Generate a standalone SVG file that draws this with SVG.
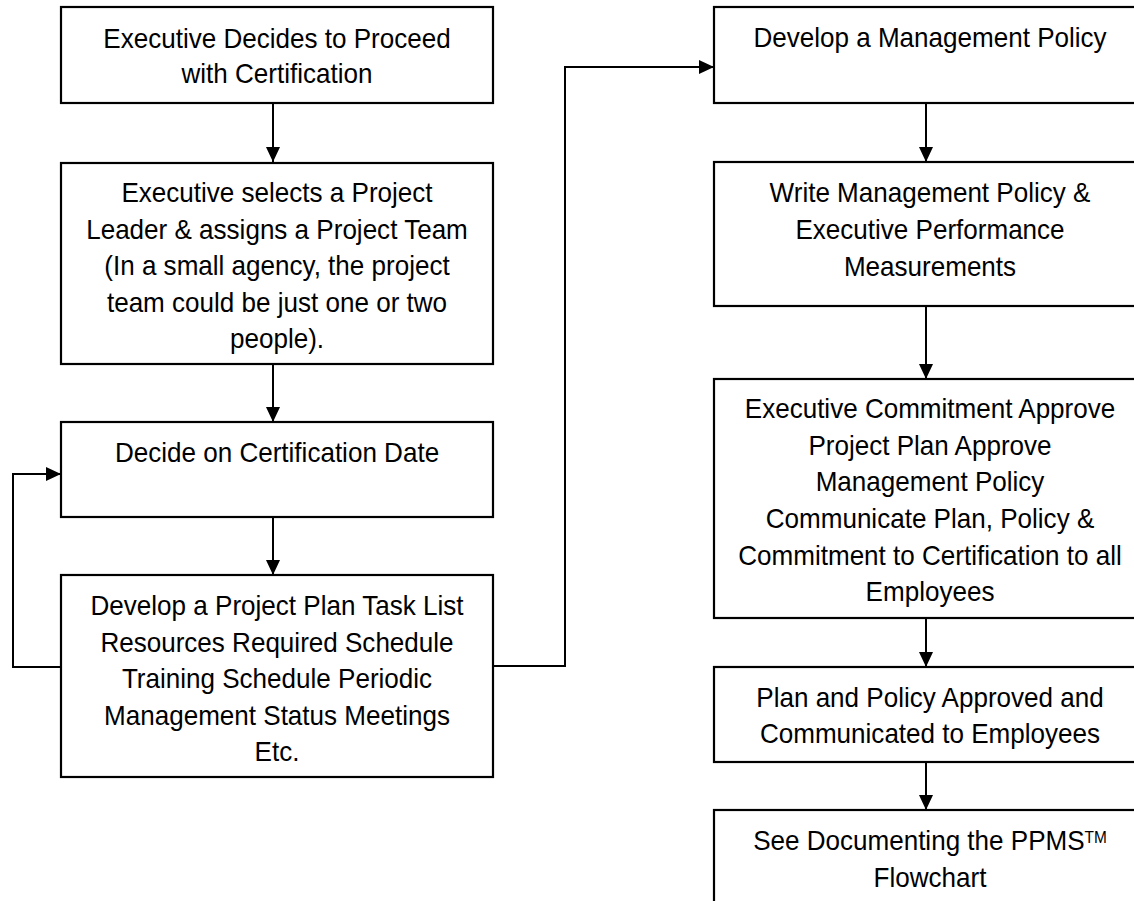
<svg xmlns="http://www.w3.org/2000/svg" width="1134" height="901" viewBox="0 0 1134 901">
<style>
.box{fill:#fff;stroke:#000;stroke-width:2.2}
.lbl{font-family:"Liberation Sans",Arial,sans-serif;font-size:27px;fill:#000;text-anchor:middle}
.tm{font-size:16px}
.con{fill:none;stroke:#000;stroke-width:2}
</style>
<defs>
<marker id="ah" markerUnits="userSpaceOnUse" markerWidth="16" markerHeight="16" refX="15" refY="7" orient="auto">
<path d="M0,0 L15,7 L0,14 z" fill="#000"/>
</marker>
</defs>
<rect width="1134" height="901" fill="#fff"/>
<g id="connectors">
<path class="con" d="M273,103 V162" marker-end="url(#ah)"/>
<path class="con" d="M273,364 V422" marker-end="url(#ah)"/>
<path class="con" d="M273,517 V575" marker-end="url(#ah)"/>
<path class="con" d="M61,667 H13 V474 H61" marker-end="url(#ah)"/>
<path class="con" d="M493,666 H565 V67 H714" marker-end="url(#ah)"/>
<path class="con" d="M926,103 V162" marker-end="url(#ah)"/>
<path class="con" d="M926,306 V379" marker-end="url(#ah)"/>
<path class="con" d="M926,618 V667" marker-end="url(#ah)"/>
<path class="con" d="M926,762 V810" marker-end="url(#ah)"/>
</g>
<g id="n1">
<rect class="box" x="61" y="7" width="432" height="96"/>
<g transform="matrix(0.965 0 0 1 277 0)"><text class="lbl"><tspan x="0" y="47.7">Executive Decides to Proceed</tspan><tspan x="0" y="83.5">with Certification</tspan></text></g>
</g>
<g id="n2">
<rect class="box" x="61" y="163" width="432" height="201"/>
<g transform="matrix(0.965 0 0 1 277 0)"><text class="lbl"><tspan x="0" y="202">Executive selects a Project</tspan><tspan x="0" y="238.6">Leader &amp; assigns a Project Team</tspan><tspan x="0" y="275.2">(In a small agency, the project</tspan><tspan x="0" y="311.8">team could be just one or two</tspan><tspan x="0" y="348.4">people).</tspan></text></g>
</g>
<g id="n3">
<rect class="box" x="61" y="422" width="432" height="95"/>
<g transform="matrix(0.965 0 0 1 277 0)"><text class="lbl"><tspan x="0" y="461.7">Decide on Certification Date</tspan></text></g>
</g>
<g id="n4">
<rect class="box" x="61" y="575" width="432" height="202"/>
<g transform="matrix(0.965 0 0 1 277 0)"><text class="lbl"><tspan x="0" y="615">Develop a Project Plan Task List</tspan><tspan x="0" y="651.6">Resources Required Schedule</tspan><tspan x="0" y="688.2">Training Schedule Periodic</tspan><tspan x="0" y="724.8">Management Status Meetings</tspan><tspan x="0" y="761.4">Etc.</tspan></text></g>
</g>
<g id="n5">
<rect class="box" x="714" y="7" width="432" height="96"/>
<g transform="matrix(0.965 0 0 1 930 0)"><text class="lbl"><tspan x="0" y="46.7">Develop a Management Policy</tspan></text></g>
</g>
<g id="n6">
<rect class="box" x="714" y="162" width="432" height="144"/>
<g transform="matrix(0.965 0 0 1 930 0)"><text class="lbl"><tspan x="0" y="201.7">Write Management Policy &amp;</tspan><tspan x="0" y="238.7">Executive Performance</tspan><tspan x="0" y="275.7">Measurements</tspan></text></g>
</g>
<g id="n7">
<rect class="box" x="714" y="379" width="432" height="239"/>
<g transform="matrix(0.965 0 0 1 930 0)"><text class="lbl"><tspan x="0" y="418">Executive Commitment Approve</tspan><tspan x="0" y="454.7">Project Plan Approve</tspan><tspan x="0" y="491.4">Management Policy</tspan><tspan x="0" y="528.1">Communicate Plan, Policy &amp;</tspan><tspan x="0" y="564.8">Commitment to Certification to all</tspan><tspan x="0" y="601.5">Employees</tspan></text></g>
</g>
<g id="n8">
<rect class="box" x="714" y="667" width="432" height="95"/>
<g transform="matrix(0.965 0 0 1 930 0)"><text class="lbl"><tspan x="0" y="706.7">Plan and Policy Approved and</tspan><tspan x="0" y="743.3">Communicated to Employees</tspan></text></g>
</g>
<g id="n9">
<rect class="box" x="714" y="810" width="432" height="120"/>
<g transform="matrix(0.965 0 0 1 930 0)"><text class="lbl"><tspan x="0" y="850">See Documenting the PPMS<tspan class="tm" dy="-7">TM</tspan></tspan><tspan x="0" y="886.7">Flowchart</tspan></text></g>
</g>
</svg>
